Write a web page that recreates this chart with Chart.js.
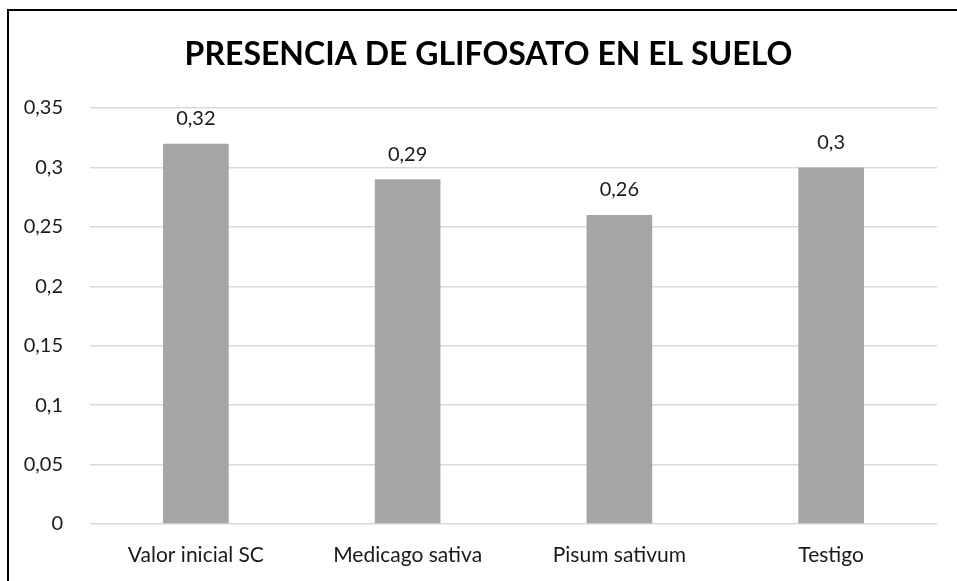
<!DOCTYPE html>
<html>
<head>
<meta charset="utf-8">
<script src="https://cdn.jsdelivr.net/npm/chart.js@4/dist/chart.umd.min.js"></script>
<style>
  html, body { margin: 0; padding: 0; background: #fff; overflow: hidden; }
  #frame {
    position: absolute; left: 7px; top: 9px; width: 1000px; height: 700px;
    border-top: 2px solid #000; border-left: 2px solid #000;
  }
  #wrap { position: absolute; left: 0; top: 0; width: 957px; height: 581px; }
</style>
</head>
<body>
<div id="frame"></div>
<div id="wrap"><canvas id="chart"></canvas></div>
<script>
"use strict";

const CATEGORIES = ["Valor inicial SC", "Medicago sativa", "Pisum sativum", "Testigo"];
const VALUES = [0.32, 0.29, 0.26, 0.3];
const TITLE = "PRESENCIA DE GLIFOSATO EN EL SUELO";

const FONT = "Lato, 'Open Sans', sans-serif";

// Decimal comma, as in the source workbook.
function fmt(v) {
  return String(Number(v.toFixed(2))).replace(".", ",");
}

// Value labels above each bar.
const barLabels = {
  id: "barLabels",
  afterDatasetsDraw(chart) {
    const ctx = chart.ctx;
    const meta = chart.getDatasetMeta(0);
    ctx.save();
    ctx.font = `20px ${FONT}`;
    ctx.fillStyle = "#1a1a1a";
    ctx.textAlign = "center";
    ctx.textBaseline = "middle";
    meta.data.forEach((bar, i) => {
      ctx.fillText(fmt(VALUES[i]), bar.x, bar.y - 25);
    });
    ctx.restore();
  },
};

// Title centred on the whole chart frame (which includes the axis gutter).
const frameTitle = {
  id: "frameTitle",
  afterDraw(chart) {
    const ctx = chart.ctx;
    const a = chart.chartArea;
    ctx.save();
    ctx.font = `bold 32px ${FONT}`;
    ctx.fillStyle = "#000";
    ctx.textAlign = "center";
    ctx.textBaseline = "middle";
    ctx.fillText(TITLE, (a.left + a.right) / 2 - 25, a.top - 53);
    ctx.restore();
  },
};

new Chart(document.getElementById("chart"), {
  type: "bar",
  data: {
    labels: CATEGORIES,
    datasets: [{
      data: VALUES,
      backgroundColor: "#a5a5a5",
      categoryPercentage: 1,
      barPercentage: 0.31,
    }],
  },
  options: {
    responsive: true,
    maintainAspectRatio: false,
    animation: false,
    layout: { padding: { left: 0, right: 20, top: 108, bottom: 0 } },
    plugins: {
      legend: { display: false },
      tooltip: { enabled: false },
      title: { display: false },
    },
    scales: {
      x: {
        grid: { display: false, drawTicks: false },
        border: { display: false },
        ticks: { color: "#1a1a1a", font: { family: FONT, size: 21 }, padding: 19 },
        afterFit(axis) { axis.height = 57; },
      },
      y: {
        min: 0,
        max: 0.35,
        ticks: {
          stepSize: 0.05,
          color: "#1a1a1a",
          font: { family: FONT, size: 20 },
          padding: 27,
          callback: (v) => fmt(v),
        },
        grid: { color: "#d9d9d9", lineWidth: 1.5, drawTicks: false },
        border: { display: false },
        afterFit(axis) { axis.width = 90; },
      },
    },
  },
  plugins: [barLabels, frameTitle],
});
</script>
</body>
</html>
